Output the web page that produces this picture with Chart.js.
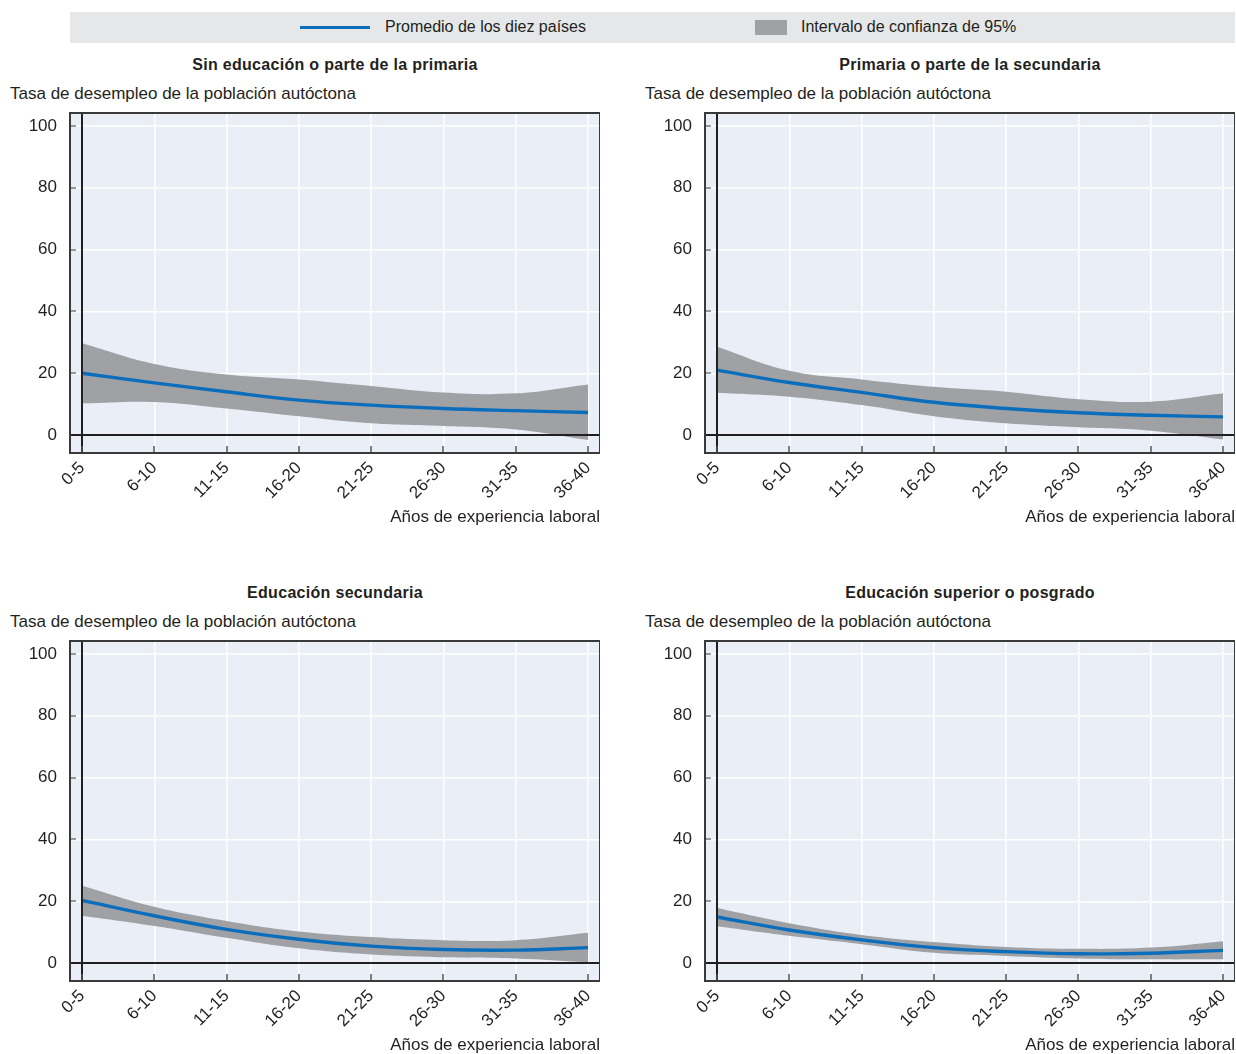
<!DOCTYPE html>
<html>
<head>
<meta charset="utf-8">
<script src="https://cdn.jsdelivr.net/npm/chart.js@4.4.1/dist/chart.umd.min.js"></script>
<style>
    body { margin: 0; background: #fff; font-family: "Liberation Sans Narrow", "Liberation Sans", sans-serif; color: #231f20; }
    #page { position: relative; width: 1236px; height: 1054px; }
    .legend { position: absolute; left: 70px; top: 12px; width: 1165px; height: 31px; background: #e6e7e9; }
    .legend .line { position: absolute; left: 230px; top: 14px; width: 70px; height: 3px; background: #0a6ebd; }
    .legend .box { position: absolute; left: 685px; top: 8px; width: 32px; height: 15px; background: #a0a1a5; }
    .legend span { position: absolute; top: 6px; font-size: 16px; }
    .title { position: absolute; width: 530px; text-align: center; font-weight: bold; font-size: 16px; letter-spacing: 0.3px; }
    .ylabel { position: absolute; font-size: 17px; }
    canvas { position: absolute; }
</style>
</head>
<body>
<div id="page">
    <div class="legend">
        <div class="line"></div><span style="left:315px">Promedio de los diez países</span>
        <div class="box"></div><span style="left:731px">Intervalo de confianza de 95%</span>
    </div>

    <div class="title" style="left:70px;top:56px">Sin educación o parte de la primaria</div>
    <div class="ylabel" style="left:10px;top:84px">Tasa de desempleo de la población autóctona</div>
    <div style="position:absolute;left:0;top:108px;width:600px;height:423px"><canvas id="c1"></canvas></div>

    <div class="title" style="left:705px;top:56px">Primaria o parte de la secundaria</div>
    <div class="ylabel" style="left:645px;top:84px">Tasa de desempleo de la población autóctona</div>
    <div style="position:absolute;left:635px;top:108px;width:600px;height:423px"><canvas id="c2"></canvas></div>

    <div class="title" style="left:70px;top:584px">Educación secundaria</div>
    <div class="ylabel" style="left:10px;top:612px">Tasa de desempleo de la población autóctona</div>
    <div style="position:absolute;left:0;top:636px;width:600px;height:423px"><canvas id="c3"></canvas></div>

    <div class="title" style="left:705px;top:584px">Educación superior o posgrado</div>
    <div class="ylabel" style="left:645px;top:612px">Tasa de desempleo de la población autóctona</div>
    <div style="position:absolute;left:635px;top:636px;width:600px;height:423px"><canvas id="c4"></canvas></div>
</div>
<script>
const categories = ['0-5', '6-10', '11-15', '16-20', '21-25', '26-30', '31-35', '36-40'];
const yTicks = [0, 20, 40, 60, 80, 100];

// Sin educación o parte de la primaria
const sinEduMean = [20.0, 16.9, 14.0, 11.3, 9.7, 8.6, 7.9, 7.3];
const sinEduHigh = [29.7, 23.0, 19.6, 18.0, 15.9, 13.8, 13.5, 16.4];
const sinEduLow = [10.3, 10.7, 8.6, 6.1, 3.8, 2.9, 1.8, -1.6];

// Primaria o parte de la secundaria
const primariaMean = [21.0, 17.0, 13.8, 10.6, 8.6, 7.2, 6.4, 5.9];
const primariaHigh = [28.6, 20.8, 18.0, 15.6, 14.0, 11.6, 10.8, 13.5];
const primariaLow = [13.7, 12.4, 9.7, 6.1, 3.8, 2.5, 1.4, -1.4];

// Educación secundaria
const secundariaMean = [20.3, 15.3, 10.9, 7.7, 5.5, 4.4, 4.2, 5.0];
const secundariaHigh = [25.0, 18.2, 13.6, 10.2, 8.4, 7.4, 7.4, 9.8];
const secundariaLow = [15.3, 12.0, 8.2, 4.8, 2.8, 1.9, 1.5, 0.3];

// Educación superior o posgrado
const superiorMean = [14.9, 10.7, 7.5, 5.0, 3.7, 3.0, 3.2, 4.1];
const superiorHigh = [17.8, 12.9, 9.1, 6.8, 5.2, 4.6, 5.0, 7.1];
const superiorLow = [11.9, 8.8, 6.1, 3.3, 2.3, 1.5, 1.2, 1.2];

const ink = '#231f20';
const blue = '#0a6ebd';
const bandGrey = '#a0a1a5';
const font = "'Liberation Sans Narrow', 'Liberation Sans', sans-serif";

// plot background, frame, zero lines and inward ticks
const framePlugin = {
    id: 'frame',
    beforeDraw(chart) {
        const a = chart.chartArea, ctx = chart.ctx;
        ctx.save();
        ctx.fillStyle = '#e9eef7';
        ctx.fillRect(a.left, a.top, a.right - a.left, a.bottom - a.top);
        ctx.restore();
    },
    afterDatasetsDraw(chart) {
        const a = chart.chartArea, ctx = chart.ctx;
        const x = chart.scales.x, y = chart.scales.y;
        ctx.save();
        ctx.strokeStyle = ink;
        ctx.lineWidth = 2;
        // zero lines
        let y0 = Math.round(y.getPixelForValue(0));
        ctx.beginPath(); ctx.moveTo(a.left, y0); ctx.lineTo(a.right, y0); ctx.stroke();
        let x0 = Math.round(x.getPixelForValue(0));
        ctx.beginPath(); ctx.moveTo(x0, a.top); ctx.lineTo(x0, a.bottom); ctx.stroke();
        // ticks
        ctx.lineWidth = 1.5;
        ctx.strokeStyle = '#555';
        categories.forEach((c, i) => {
            let px = Math.round(x.getPixelForValue(i));
            ctx.beginPath(); ctx.moveTo(px, a.bottom); ctx.lineTo(px, a.bottom - 7); ctx.stroke();
        });
        ctx.strokeStyle = '#777';
        yTicks.forEach(v => {
            if (v == 0) return;
            let py = Math.round(y.getPixelForValue(v));
            ctx.beginPath(); ctx.moveTo(a.left, py); ctx.lineTo(a.left + 6, py); ctx.stroke();
        });
        // frame
        ctx.strokeStyle = '#3a3a3a';
        ctx.lineWidth = 2;
        ctx.strokeRect(a.left, a.top, a.right - a.left, a.bottom - a.top);
        ctx.restore();
    }
};

function makeChart(id, mean, high, low) {
    const ctx = document.getElementById(id);
    return new Chart(ctx, {
        type: 'line',
        data: {
            datasets: [
                {
                    label: 'Promedio de los diez países',
                    data: mean.map((v, i) => ({ x: i, y: v })),
                    borderColor: blue,
                    borderWidth: 3.4,
                    pointRadius: 0,
                    tension: 0.4,
                    fill: false
                },
                {
                    label: 'Intervalo de confianza de 95%',
                    data: high.map((v, i) => ({ x: i, y: v })),
                    borderWidth: 0,
                    borderColor: 'rgba(0,0,0,0)',
                    backgroundColor: bandGrey,
                    pointRadius: 0,
                    tension: 0.4,
                    fill: '+1'
                },
                {
                    label: 'low',
                    data: low.map((v, i) => ({ x: i, y: v })),
                    borderWidth: 0,
                    borderColor: 'rgba(0,0,0,0)',
                    pointRadius: 0,
                    tension: 0.4,
                    fill: false
                }
            ]
        },
        options: {
            responsive: true,
            maintainAspectRatio: false,
            animation: false,
            layout: { padding: { top: 5, right: 0, left: 0, bottom: 0 } },
            plugins: {
                legend: { display: false },
                tooltip: { enabled: false },
                title: { display: false }
            },
            scales: {
                x: {
                    type: 'linear',
                    min: -0.166,
                    max: 7.166,
                    afterBuildTicks: (scale) => {
                        scale.ticks = categories.map((c, i) => ({ value: i }));
                    },
                    afterFit: (scale) => {
                        scale.height = 78;
                        scale.paddingLeft = 0;
                        scale.paddingRight = 0;
                    },
                    ticks: {
                        callback: (v) => categories[v],
                        maxRotation: 45,
                        minRotation: 45,
                        autoSkip: false,
                        padding: 5,
                        color: ink,
                        font: { family: font, size: 17 }
                    },
                    grid: {
                        color: (c) => c.tick && c.tick.value == 0 ? 'rgba(0,0,0,0)' : '#ffffff',
                        lineWidth: 1.5,
                        drawTicks: false
                    },
                    border: { display: false },
                    title: {
                        display: true,
                        text: 'Años de experiencia laboral',
                        align: 'end',
                        color: ink,
                        font: { family: font, size: 17 },
                        padding: { top: 0, bottom: 3 }
                    }
                },
                y: {
                    min: -5.8,
                    max: 104.2,
                    afterBuildTicks: (scale) => {
                        scale.ticks = yTicks.map(v => ({ value: v }));
                    },
                    afterFit: (scale) => {
                        scale.width = 70;
                        scale.paddingTop = 0;
                        scale.paddingBottom = 0;
                    },
                    ticks: {
                        padding: 13,
                        color: ink,
                        font: { family: font, size: 17 }
                    },
                    grid: {
                        color: (c) => c.tick && c.tick.value == 0 ? 'rgba(0,0,0,0)' : '#ffffff',
                        lineWidth: 1.5,
                        drawTicks: false
                    },
                    border: { display: false }
                }
            }
        },
        plugins: [framePlugin]
    });
}

makeChart('c1', sinEduMean, sinEduHigh, sinEduLow);
makeChart('c2', primariaMean, primariaHigh, primariaLow);
makeChart('c3', secundariaMean, secundariaHigh, secundariaLow);
makeChart('c4', superiorMean, superiorHigh, superiorLow);
</script>
</body>
</html>
